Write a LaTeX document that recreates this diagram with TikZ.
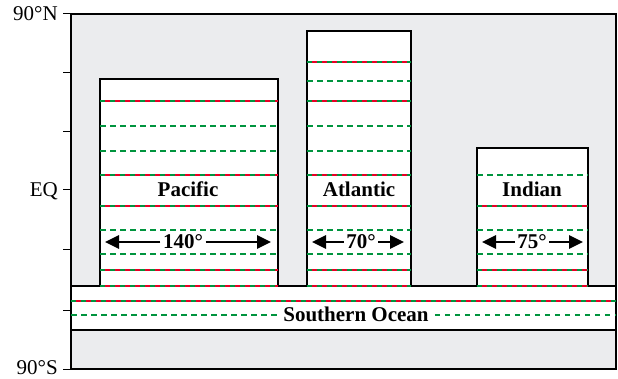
\documentclass[tikz,border=0pt]{standalone}
\usepackage{fontspec}
\setmainfont{Liberation Serif}
\usetikzlibrary{arrows.meta}
\definecolor{bggray}{RGB}{235,236,238}
\definecolor{ogreen}{RGB}{0,148,62}
\definecolor{ored}{RGB}{230,0,38}
\tikzset{
  frameline/.style={draw=black,line width=1.3pt},
  oceanbox/.style={fill=white,draw=black,line width=1.4pt},
  rgline/.style={draw=ored,line width=2.3pt,postaction={draw=ogreen,line width=2.3pt,dash pattern=on 5pt off 5pt}},
  gline/.style={draw=ogreen,line width=2.3pt,dash pattern=on 5.5pt off 4.5pt},
  axlabel/.style={anchor=base east,inner sep=0pt,font=\fontsize{21}{22}\selectfont},
  oclabel/.style={anchor=base,inner sep=0pt,font=\fontsize{21}{22}\selectfont\bfseries},
  deglabel/.style={anchor=base,inner sep=2.5pt,font=\fontsize{21}{22}\selectfont\bfseries},
  widearrow/.style={line width=2.8pt,-{Triangle[length=14pt,width=13pt]}},
}
\begin{document}
\begin{tikzpicture}[x=1pt,y=-1pt]
\useasboundingbox (0,0) rectangle (618,379);
% frame
\fill[bggray] (71,14) rectangle (616,369);
\draw[frameline] (71,14) rectangle (616,369);
\foreach \yy in {14,73,132,190,250,310,369} \draw[line width=1pt] (63,\yy) -- (71,\yy);
\node[axlabel] (ln) at (58,21) {90°N};
\node[axlabel] (leq) at (58,197) {EQ};
\node[axlabel] (ls) at (58,374.5) {90°S};
% southern ocean
\draw[oceanbox] (71,286) rectangle (616,330);
% ocean basins
\draw[oceanbox] (100,79) rectangle (278,286);
\draw[oceanbox] (307,31) rectangle (411,286);
\draw[oceanbox] (477,148) rectangle (588,286);
% Pacific lines
\foreach \yy in {101,175,206,270,286} \draw[rgline] (100,\yy) -- (278,\yy);
\foreach \yy in {126,151,230,254} \draw[gline] (100,\yy) -- (278,\yy);
% Atlantic lines
\foreach \yy in {62,101,175,206,270,286} \draw[rgline] (307,\yy) -- (411,\yy);
\foreach \yy in {81,126,151,230,254} \draw[gline] (307,\yy) -- (411,\yy);
% Indian lines
\foreach \yy in {206,270,286} \draw[rgline] (477,\yy) -- (588,\yy);
\foreach \yy in {175,230,254} \draw[gline] (477,\yy) -- (588,\yy);
% Southern ocean lines
\draw[rgline] (71,301) -- (616,301);
\node[oclabel] (so) at (356,321) {Southern Ocean};
\coordinate (soL) at (71,315);
\coordinate (soR) at (616,315);
\draw[gline] (soL) -- ([xshift=-6pt]so.west |- soL);
\draw[gline] ([xshift=6pt]so.east |- soR) -- (soR);
% basin labels
\node[oclabel] (pac) at (188,197) {Pacific};
\node[oclabel] (atl) at (359,197) {Atlantic};
\node[oclabel] (ind) at (532,197) {Indian};
% width arrows
\node[deglabel] (p140) at (183,249) {140°};
\node[deglabel] (a70) at (361,249) {70°};
\node[deglabel] (i75) at (532,249) {75°};
\coordinate (pL) at (105,242); \coordinate (pR) at (271,242);
\coordinate (aL) at (312,242); \coordinate (aR) at (404,242);
\coordinate (iL) at (482,242); \coordinate (iR) at (583,242);
\draw[widearrow] (p140.west |- pL) -- (pL);
\draw[widearrow] (p140.east |- pR) -- (pR);
\draw[widearrow] (a70.west |- aL) -- (aL);
\draw[widearrow] (a70.east |- aR) -- (aR);
\draw[widearrow] (i75.west |- iL) -- (iL);
\draw[widearrow] (i75.east |- iR) -- (iR);
\end{tikzpicture}
\end{document}
